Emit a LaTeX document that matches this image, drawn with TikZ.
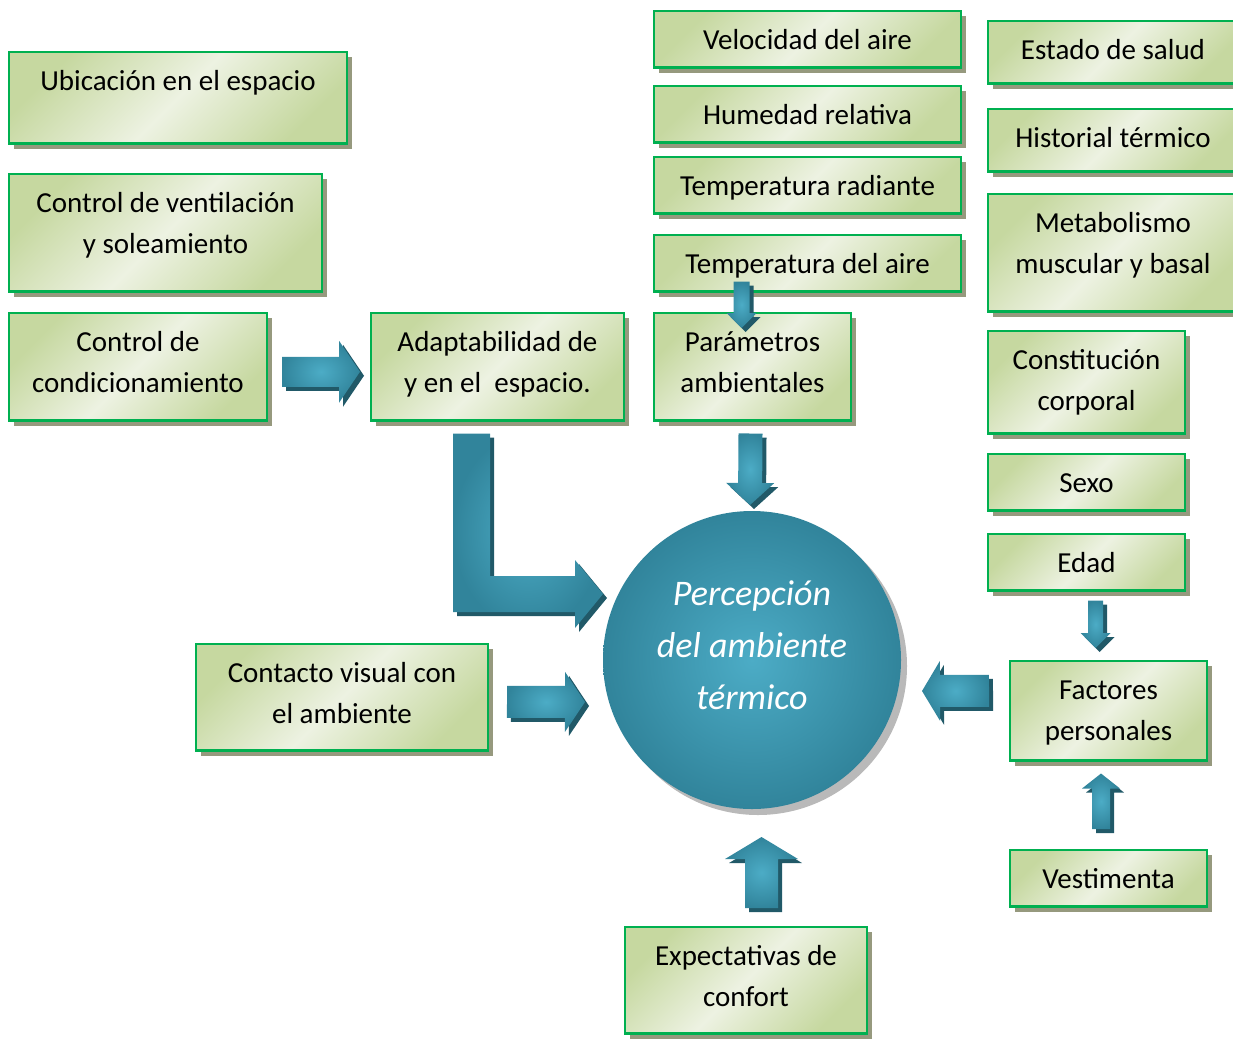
\documentclass[tikz,border=0pt]{standalone}
\usepackage{fontspec}
\setmainfont{Carlito}
\usetikzlibrary{calc,shadows}

\definecolor{boxline}{RGB}{0,176,80}
\definecolor{boxlight}{RGB}{237,242,226}
\definecolor{boxolive}{RGB}{198,216,160}
\definecolor{boxshadow}{RGB}{150,153,126}
\definecolor{tealmain}{RGB}{49,132,155}
\definecolor{teallight}{RGB}{76,172,198}
\definecolor{tealdark}{RGB}{33,89,104}

\tikzset{
  factorbox/.style={draw=boxline, line width=2.5pt, top color=boxolive, bottom color=boxolive,
    middle color=boxlight, shading angle=45,
    drop shadow={shadow xshift=5pt, shadow yshift=-5pt, fill=boxshadow, opacity=1},
    anchor=north west, outer sep=0pt, inner xsep=4pt, inner ysep=0pt, text height=38pt,
    font=\fontsize{29}{41}\selectfont},
  arrowfill/.style={inner color=teallight, outer color=tealmain,
    drop shadow={shadow xshift=4pt, shadow yshift=-4pt, fill=tealdark, opacity=1}}
}

% lines of a node, first line on the baseline
\newcommand\lines[1]{\begin{tabular}[t]{@{}c@{}}#1\end{tabular}}

% block arrow: start, tip, half shaft, half head, head length
\newcommand\bigarrow[5]{%
  \coordinate (ba-c) at ($(#2)!#5!(#1)$);
  \path[arrowfill] ($(#1)!#3!90:(#2)$) -- ($(ba-c)!#3!90:(#2)$) -- ($(ba-c)!#4!90:(#2)$) -- (#2)
    -- ($(ba-c)!#4!-90:(#2)$) -- ($(ba-c)!#3!-90:(#2)$) -- ($(#1)!#3!-90:(#2)$) -- cycle;}

\begin{document}
\begin{tikzpicture}[x=1pt,y=-1pt]
\useasboundingbox (0,0) rectangle (1233,1039);

%Boxes left
\node[factorbox, minimum width=338pt, text depth=53.5pt] (ubic) at (9,52) {Ubicación en el espacio};
\node[factorbox, minimum width=313pt, text depth=79.5pt] (vent) at (9,174) {\lines{Control de ventilación\\y soleamiento}};
\node[factorbox, minimum width=258pt, text depth=69.5pt] (cond) at (9,313) {\lines{Control de\\condicionamiento}};
\node[factorbox, minimum width=253pt, text depth=69.5pt] (adapt) at (371,313) {\lines{Adaptabilidad de\\y en el~ espacio.}};
\node[factorbox, minimum width=292pt, text depth=68.5pt] (contact) at (196,644) {\lines{Contacto visual con\\el ambiente}};
\node[factorbox, minimum width=242pt, text depth=68.5pt] (expect) at (625,927) {\lines{Expectativas de\\confort}};

%Boxes environment
\node[factorbox, minimum width=307pt, text depth=18.5pt] (vel) at (654,11) {Velocidad del aire};
\node[factorbox, minimum width=307pt, text depth=18.5pt] (hum) at (654,86) {Humedad relativa};
\node[factorbox, minimum width=307pt, text depth=18.5pt] (trad) at (654,157) {Temperatura radiante};
\node[factorbox, minimum width=307pt, text depth=18.5pt] (taire) at (654,235) {Temperatura del aire};
\node[factorbox, minimum width=197pt, text depth=69.5pt] (param) at (654,313) {\lines{Parámetros\\ambientales}};

%Boxes personal
\node[factorbox, minimum width=250pt, text depth=24.5pt] (salud) at (988,21) {Estado de salud};
\node[factorbox, minimum width=250pt, text depth=24.5pt] (hist) at (988,109) {Historial térmico};
\node[factorbox, minimum width=250pt, text depth=79.5pt] (metab) at (988,194) {\lines{Metabolismo\\muscular y basal}};
\node[factorbox, minimum width=197pt, text depth=64.5pt] (const) at (988,331) {\lines{Constitución\\corporal}};
\node[factorbox, minimum width=197pt, text depth=18.5pt] (sexo) at (988,454) {Sexo};
\node[factorbox, minimum width=197pt, text depth=18.5pt] (edad) at (988,534) {Edad};
\node[factorbox, minimum width=197pt, text depth=61.5pt] (fact) at (1010,661) {\lines{Factores\\personales}};
\node[factorbox, minimum width=197pt, text depth=18.5pt] (vest) at (1010,850) {Vestimenta};

%Circle
\node[circle, minimum size=298pt, inner sep=0pt, outer sep=0pt, inner color=teallight, outer color=tealmain,
  drop shadow={shadow xshift=6pt, shadow yshift=-6pt, fill=gray!55, opacity=1},
  text=white, font=\fontsize{36}{52}\selectfont\itshape] (perc) at (752,660)
  {\raisebox{7pt}[0pt][0pt]{\begin{tabular}{@{}c@{}}Percepción\\del ambiente\\térmico\end{tabular}}};

%Arrows
\coordinate (a1s) at ($(cond.east)+(15,5)$);
\coordinate (a1e) at ($(adapt.west)+(-11,5)$);
\bigarrow{a1s}{a1e}{15pt}{31pt}{21pt}

\coordinate (lstart) at ($(adapt.south)+(-26,13)$);
\coordinate (ltip) at ($(perc.west)+(0,-66)$);
\path[arrowfill] ($(lstart)+(-18.5,0)$) -- ($(lstart)+(18.5,0)$) -- ($(lstart|-ltip)+(18.5,-18)$)
  -- ($(ltip)+(-28,-18)$) -- ($(ltip)+(-28,-34)$) -- (ltip) -- ($(ltip)+(-28,34)$)
  -- ($(ltip)+(-28,18)$) -- ($(lstart|-ltip)+(-18.5,18)$) -- cycle;

\coordinate (a3s) at ($(taire.south)+(-66,-10)$);
\coordinate (a3e) at ($(param.north)+(-11,15)$);
\bigarrow{a3s}{a3e}{8pt}{15pt}{15pt}

\coordinate (a4s) at ($(param.south)+(-2,13)$);
\coordinate (a4e) at ($(perc.north)+(-2,-6)$);
\bigarrow{a4s}{a4e}{12pt}{24pt}{22pt}

\coordinate (a5s) at ($(contact.east)+(19,4.5)$);
\coordinate (a5e) at ($(perc.west)+(-18,42)$);
\bigarrow{a5s}{a5e}{16pt}{30pt}{20pt}

\coordinate (a6s) at ($(fact.west)+(-21,-20)$);
\coordinate (a6e) at ($(perc.east)+(21,31)$);
\bigarrow{a6s}{a6e}{16pt}{30pt}{18pt}

\coordinate (a7s) at ($(edad.south)+(9,10)$);
\coordinate (a7e) at ($(fact.north)+(-13,-13)$);
\bigarrow{a7s}{a7e}{7.5pt}{15pt}{15pt}

\coordinate (a8s) at ($(vest.north)+(-7.5,-21)$);
\coordinate (a8e) at ($(fact.south)+(-7.5,13)$);
\bigarrow{a8s}{a8e}{9pt}{19pt}{15pt}

\coordinate (a9s) at ($(expect.north)+(15.5,-19)$);
\coordinate (a9e) at ($(perc.south)+(9.5,28)$);
\bigarrow{a9s}{a9e}{16.5pt}{36.5pt}{22pt}

\end{tikzpicture}
\end{document}
